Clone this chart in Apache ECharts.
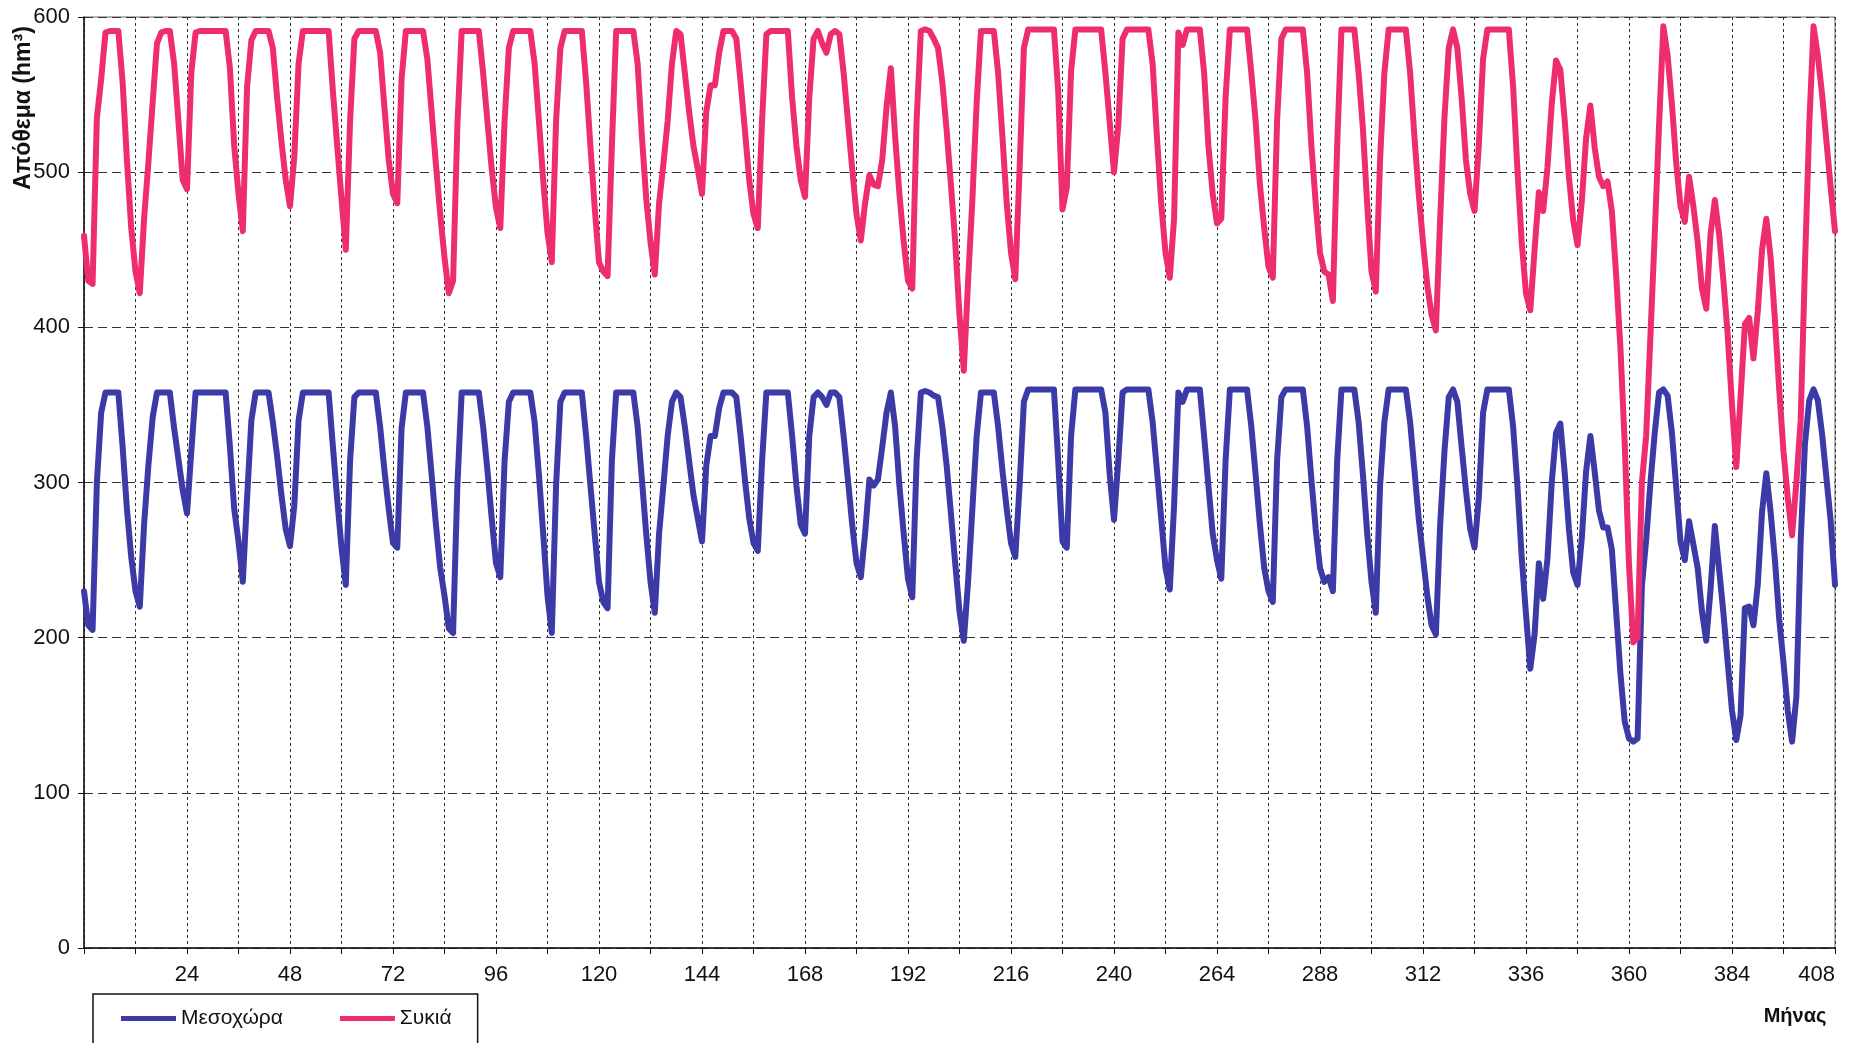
<!DOCTYPE html>
<html><head><meta charset="utf-8">
<script src="https://cdn.jsdelivr.net/npm/echarts@6/dist/echarts.min.js"></script>
<style>html,body{margin:0;padding:0;background:#fff}#c{width:1866px;height:1043px}</style>
</head><body><div id="c"></div>
<script>
// month index 0..408
const months = Array.from({length: 409}, (_, i) => i);
const xTickLabels = [24,48,72,96,120,144,168,192,216,240,264,288,312,336,360,384,408];
const yTicks = [0,100,200,300,400,500,600];
const seriesNames = ['Μεσοχώρα', 'Συκιά'];

// Μεσοχώρα storage (hm3), one value per month
const mesochora = [
230,208,205,300,345,358,358,358,358,323,283,252,
230,220,273,311,342,358,358,358,358,335,315,295,
280,320,358,358,358,358,358,358,358,358,323,283,
262,236,290,340,358,358,358,358,339,317,292,270,
259,285,340,358,358,358,358,358,358,358,323,289,
258,234,314,355,358,358,358,358,358,336,308,283,
261,258,335,358,358,358,358,358,336,305,273,245,
227,206,203,298,358,358,358,358,358,336,308,277,
248,239,314,352,358,358,358,358,358,339,305,267,
227,203,298,352,358,358,358,358,358,330,298,267,
236,223,219,314,358,358,358,358,358,336,302,267,
236,216,267,298,330,352,358,355,336,314,292,277,
262,311,330,330,348,358,358,358,355,330,302,277,
261,256,314,358,358,358,358,358,358,330,298,273,
267,330,355,358,355,350,358,358,355,330,302,273,
248,239,267,302,298,302,323,345,358,336,298,267,
238,226,314,358,359,358,356,355,336,311,280,248,
217,198,236,283,330,358,358,358,358,336,308,283,
261,252,298,352,360,360,360,360,360,360,360,314,
262,258,330,360,360,360,360,360,360,360,345,305,
276,314,358,360,360,360,360,360,360,339,308,277,
245,231,285,358,352,360,360,360,360,330,298,267,
250,238,314,360,360,360,360,360,336,305,273,245,
230,223,314,355,360,360,360,360,360,336,302,270,
245,236,239,230,314,360,360,360,360,339,305,267,
236,216,298,339,360,360,360,360,360,339,308,277,
252,227,208,202,273,320,355,360,352,323,295,270,
258,290,345,360,360,360,360,360,360,336,298,252,
215,180,202,248,225,251,300,332,338,307,270,242,
234,264,307,330,307,282,271,271,257,217,177,146,
135,133,135,233,263,300,332,358,360,356,332,297,
262,250,275,260,245,217,198,231,272,244,216,184,
153,134,150,219,220,208,234,281,306,281,250,212,
184,153,133,162,262,325,353,360,353,331,303,275,
234
];

// Συκιά storage (hm3), one value per month
const sykia = [
459,430,428,535,560,590,591,591,591,558,508,464,
436,422,470,506,545,583,590,591,591,570,533,495,
489,564,590,591,591,591,591,591,591,591,567,517,
486,462,555,585,591,591,591,591,580,548,520,495,
478,510,570,591,591,591,591,591,591,591,552,517,
483,450,533,586,591,591,591,591,591,577,542,508,
486,480,560,591,591,591,591,591,573,539,505,473,
445,422,430,530,591,591,591,591,591,564,533,502,
477,464,533,580,591,591,591,591,591,570,533,495,
461,442,533,580,591,591,591,591,591,558,517,477,
442,436,433,517,591,591,591,591,591,570,523,483,
455,434,480,505,533,570,591,589,564,539,517,502,
486,539,556,556,577,591,591,591,586,558,527,495,
473,464,533,589,591,591,591,591,591,548,517,495,
484,548,586,591,583,577,589,591,589,564,533,502,
473,456,480,498,492,491,508,542,567,523,486,455,
430,425,533,591,592,591,586,580,558,527,492,455,
408,372,430,482,545,591,591,591,591,564,523,480,
448,431,502,580,592,592,592,592,592,592,592,552,
476,490,565,592,592,592,592,592,592,592,564,532,
500,530,586,592,592,592,592,592,592,570,523,480,
448,432,470,590,582,592,592,592,592,564,517,486,
467,470,548,592,592,592,592,592,564,533,492,464,
439,432,533,586,592,592,592,592,592,564,517,480,
448,436,434,417,517,592,592,592,592,564,528,479,
436,423,508,564,592,592,592,592,592,564,523,486,
455,427,408,398,470,535,580,592,580,548,508,486,
475,517,573,592,592,592,592,592,592,555,502,455,
422,411,450,487,475,503,544,572,566,534,497,469,
453,481,522,543,516,497,491,494,475,434,387,325,
247,197,200,300,330,395,460,530,594,575,544,506,
478,468,497,478,455,425,412,460,482,460,430,395,
350,310,355,402,406,380,410,450,470,445,405,360,
320,290,266,300,340,440,530,594,575,550,520,490,
462
];

const FONT = "'Liberation Sans', Arial, sans-serif";
const BLUE = '#3b3aa6';
const PINK = '#ee2d70';

const chart = echarts.init(document.getElementById('c'), null, {renderer: 'canvas'});
chart.setOption({
  backgroundColor: '#ffffff',
  animation: false,
  grid: {left: 84, right: 31, top: 17, bottom: 95, show: true, borderColor: '#666', borderWidth: 1, containLabel: false},
  xAxis: {
    type: 'value', min: 0, max: 408, interval: 12,
    axisLine: {show: true, lineStyle: {color: '#111', width: 1.5}},
    axisTick: {show: true, length: 6, lineStyle: {color: '#111'}},
    axisLabel: {
      margin: 16, fontSize: 22, fontFamily: FONT, color: '#111', alignMaxLabel: 'right',
      formatter: v => xTickLabels.includes(v) ? String(v) : ''
    },
    splitLine: {show: true, lineStyle: {color: '#333', type: [3, 3], width: 1}}
  },
  yAxis: {
    type: 'value', min: 0, max: 600, interval: 100,
    axisLine: {show: true, lineStyle: {color: '#111', width: 1.5}},
    axisTick: {show: true, length: 6, lineStyle: {color: '#111'}},
    axisLabel: {margin: 14, fontSize: 22, fontFamily: FONT, color: '#111',
      formatter: v => yTicks.includes(v) ? String(v) : ''},
    splitLine: {show: true, lineStyle: {color: '#333', type: [9, 5], width: 1}}
  },
  legend: {
    left: 93, top: 994,
    itemWidth: 55, itemHeight: 5, itemGap: 57,
    icon: 'rect',
    padding: [14, 26, 40, 28],
    borderColor: '#111', borderWidth: 1.5,
    textStyle: {fontSize: 21, fontFamily: FONT, color: '#111'},
    data: seriesNames
  },
  graphic: [
    {type: 'text', x: 24, y: 108, rotation: Math.PI / 2,
     style: {text: 'Απόθεμα (hm³)', font: "bold 23px 'Liberation Sans', Arial, sans-serif", fill: '#111', align: 'center', verticalAlign: 'middle', textAlign: 'center', textVerticalAlign: 'middle'}},
    {type: 'text', x: 1795, y: 1016,
     style: {text: 'Μήνας', font: "bold 20px 'Liberation Sans', Arial, sans-serif", fill: '#111', align: 'center', verticalAlign: 'middle', textAlign: 'center', textVerticalAlign: 'middle'}}
  ],
  series: [
    {name: seriesNames[0], type: 'line', showSymbol: false, symbol: 'none', smooth: false,
     lineStyle: {color: BLUE, width: 6, join: 'round', cap: 'round'}, itemStyle: {color: BLUE},
     data: mesochora.map((v, i) => [months[i], v])},
    {name: seriesNames[1], type: 'line', showSymbol: false, symbol: 'none', smooth: false,
     lineStyle: {color: PINK, width: 6, join: 'round', cap: 'round'}, itemStyle: {color: PINK},
     data: sykia.map((v, i) => [months[i], v])}
  ]
});
</script>
</body></html>
